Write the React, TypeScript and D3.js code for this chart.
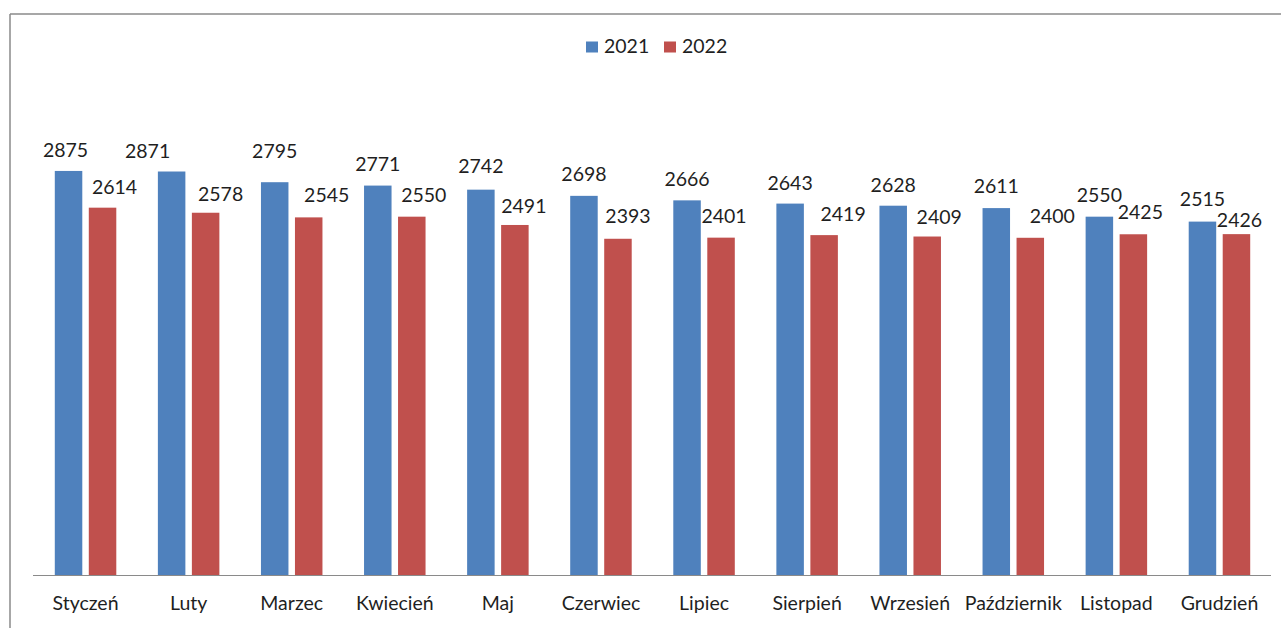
import React from "react";
import * as d3 from "d3";

const months = ["Styczeń", "Luty", "Marzec", "Kwiecień", "Maj", "Czerwiec", "Lipiec", "Sierpień", "Wrzesień", "Październik", "Listopad", "Grudzień"];
const values2021 = [2875, 2871, 2795, 2771, 2742, 2698, 2666, 2643, 2628, 2611, 2550, 2515];
const values2022 = [2614, 2578, 2545, 2550, 2491, 2393, 2401, 2419, 2409, 2400, 2425, 2426];
const seriesNames = ["2021", "2022"];

// label nudges (manually placed labels in the original)
const labelDx2021 = [-3, -24, 0, 0, 0, 0, 0, 0, 0, 0, 0, 0];
const labelGap2021 = [14, 14, 24, 15, 17, 15, 14, 14, 14, 15, 15, 16];
const labelDx2022 = [12, 15, 18, 12, 9, 10, 3, 19, 12, 22, 7, 3];
const labelGap2022 = [14, 12, 15, 15, 12, 16, 15, 14, 13, 15, 15, 7];

const W = 1281;
const H = 628;
const colors = ["#4F81BD", "#C0504D"];
const font = "Lato, 'Open Sans', sans-serif";
const textColor = "#1f1f1f";

export default function App() {
  const x = d3.scaleBand<string>().domain(months).range([34, 1271]).paddingInner(0).paddingOuter(0);
  const y = d3.scaleLinear().domain([0, 3500]).range([575.5, 83]);
  const barW = 27.5;
  const gap = 6.5;
  const series = [values2021, values2022];
  const dxs = [labelDx2021, labelDx2022];
  const gaps = [labelGap2021, labelGap2022];

  return (
    <svg width={W} height={H} style={{ position: "fixed", left: 0, top: 0, background: "#fff" }} fontFamily={font}>
      <rect x={0} y={0} width={W} height={H} fill="#fff" />
      {/* chart border */}
      <line x1={10} y1={14} x2={W} y2={14} stroke="#8a8a8a" strokeWidth={1.5} />
      <line x1={10} y1={14} x2={10} y2={H} stroke="#8a8a8a" strokeWidth={1.5} />

      {/* legend */}
      {seriesNames.map((s, i) => {
        const lx = 586 + i * 78;
        return (
          <g key={s}>
            <rect x={lx} y={41.5} width={12} height={11} fill={colors[i]} />
            <text x={lx + 18} y={53} fontSize={19.5} fill={textColor}>{s}</text>
          </g>
        );
      })}

      {/* bars */}
      {months.map((m, i) => {
        const cx = (x(m) as number) + x.bandwidth() / 2;
        const groupW = barW * 2 + gap;
        return (
          <g key={m}>
            {series.map((vals, s) => {
              const bx = cx - groupW / 2 + s * (barW + gap);
              const top = y(vals[i]);
              return (
                <g key={s}>
                  <rect x={bx} y={top} width={barW} height={y(0) - top} fill={colors[s]} />
                  <text
                    x={bx + barW / 2 + dxs[s][i]}
                    y={top - gaps[s][i]}
                    textAnchor="middle"
                    fontSize={19.5}
                    fill={textColor}
                  >
                    {vals[i]}
                  </text>
                </g>
              );
            })}
            <text x={cx} y={610} textAnchor="middle" fontSize={19.5} fill={textColor}>{m}</text>
          </g>
        );
      })}

      {/* axis line */}
      <line x1={33} y1={575.5} x2={1271} y2={575.5} stroke="#8a8a8a" strokeWidth={1.2} />
    </svg>
  );
}
